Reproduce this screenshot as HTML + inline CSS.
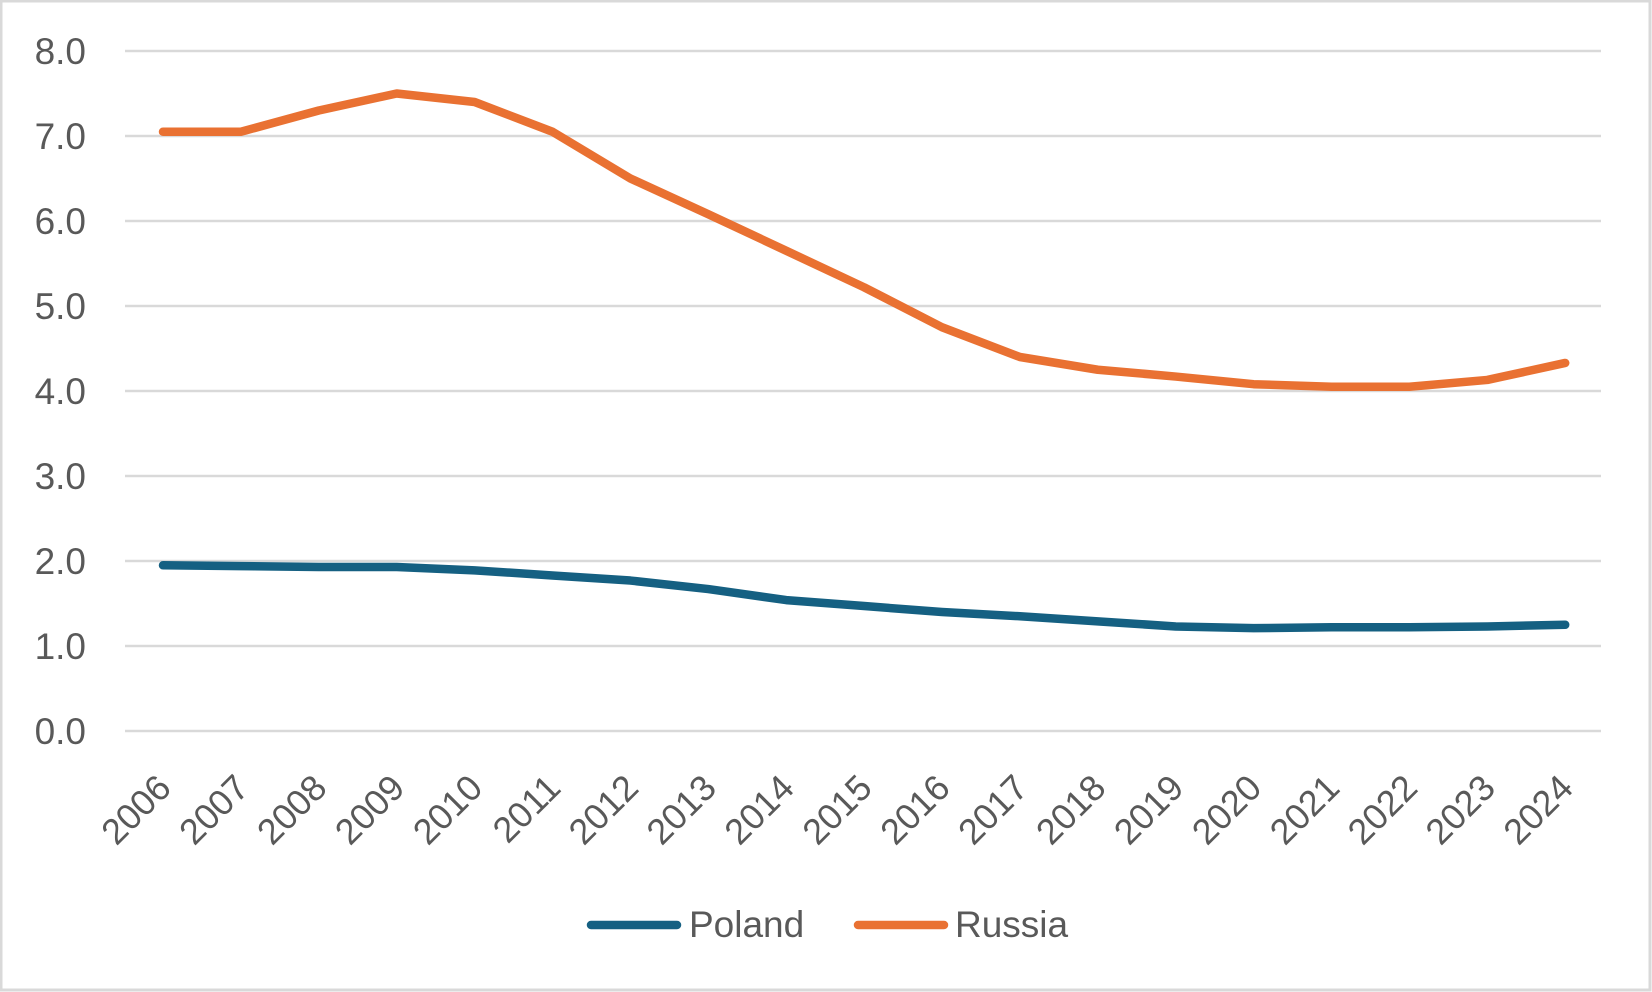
<!DOCTYPE html>
<html><head><style>
html,body{margin:0;padding:0;background:#fff;}
svg{display:block;font-family:"Liberation Sans",sans-serif;}
</style></head><body>
<svg width="1652" height="992" viewBox="0 0 1652 992">
<rect x="1" y="1" width="1649" height="989" fill="#fff" stroke="#d9d9d9" stroke-width="3"/>
<g stroke="#d9d9d9" stroke-width="2.5">
<line x1="125" x2="1601" y1="51" y2="51"/>
<line x1="125" x2="1601" y1="136" y2="136"/>
<line x1="125" x2="1601" y1="221" y2="221"/>
<line x1="125" x2="1601" y1="306" y2="306"/>
<line x1="125" x2="1601" y1="391" y2="391"/>
<line x1="125" x2="1601" y1="476" y2="476"/>
<line x1="125" x2="1601" y1="561" y2="561"/>
<line x1="125" x2="1601" y1="646" y2="646"/>
<line x1="125" x2="1601" y1="731" y2="731"/>
</g>
<g fill="#595959" font-size="37" text-anchor="end">
<text x="86" y="64">8.0</text>
<text x="86" y="149">7.0</text>
<text x="86" y="234">6.0</text>
<text x="86" y="319">5.0</text>
<text x="86" y="404">4.0</text>
<text x="86" y="489">3.0</text>
<text x="86" y="574">2.0</text>
<text x="86" y="659">1.0</text>
<text x="86" y="744">0.0</text>
</g>
<g fill="#595959" font-size="36" text-anchor="end" id="xl"></g>
<polyline id="pl" fill="none" stroke="#156082" stroke-width="8.5" stroke-linecap="round" stroke-linejoin="round" points=""/>
<polyline id="ru" fill="none" stroke="#e97132" stroke-width="8.5" stroke-linecap="round" stroke-linejoin="round" points=""/>
<line x1="591" y1="925" x2="677" y2="925" stroke="#156082" stroke-width="8.5" stroke-linecap="round"/>
<text x="689" y="937" font-size="37" fill="#595959">Poland</text>
<line x1="858" y1="925" x2="944" y2="925" stroke="#e97132" stroke-width="8.5" stroke-linecap="round"/>
<text x="955" y="937" font-size="37" fill="#595959">Russia</text>
<script>
var ru=[7.05,7.05,7.3,7.5,7.4,7.05,6.5,6.08,5.65,5.22,4.75,4.4,4.25,4.17,4.08,4.05,4.05,4.13,4.33];
var pl=[1.95,1.94,1.93,1.93,1.89,1.83,1.77,1.67,1.54,1.47,1.40,1.35,1.29,1.23,1.21,1.22,1.22,1.23,1.25];
function X(i){return 163+77.9*i;}function Y(v){return 731-85*v;}
document.getElementById('ru').setAttribute('points',ru.map(function(v,i){return X(i)+','+Y(v)}).join(' '));
document.getElementById('pl').setAttribute('points',pl.map(function(v,i){return X(i)+','+Y(v)}).join(' '));
var g=document.getElementById('xl'),ns='http://www.w3.org/2000/svg';
for(var i=0;i<19;i++){var t=document.createElementNS(ns,'text');var x=X(i)+10,y=790;
t.setAttribute('x',x);t.setAttribute('y',y);t.setAttribute('transform','rotate(-45 '+x+' '+y+')');
t.textContent=2006+i;g.appendChild(t);}
</script>
</svg>
</body></html>
